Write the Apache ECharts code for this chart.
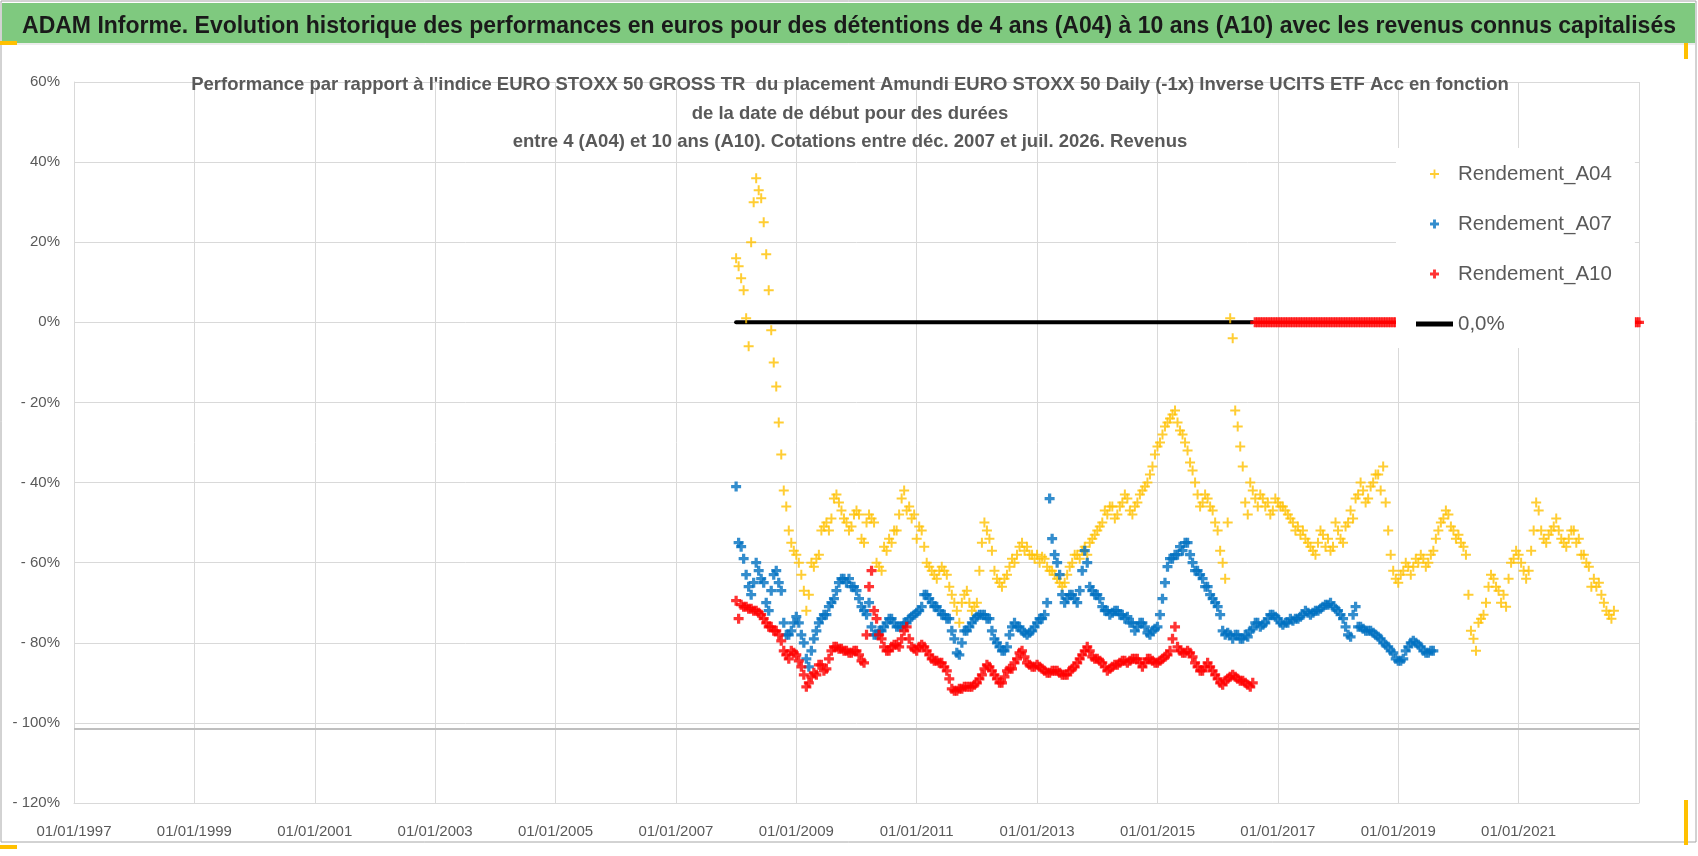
<!DOCTYPE html>
<html lang="fr">
<head>
<meta charset="UTF-8">
<title>ADAM Informe - Rendements A04 A07 A10</title>
<style>
    html, body { margin: 0; padding: 0; background: #fff; }
    #main { width: 1698px; height: 856px; }
</style>
</head>
<body>
<div id="main"></div>
<script src="https://cdn.jsdelivr.net/npm/echarts@6/dist/echarts.min.js"></script>
<script>
    // relevés toutes les demi-mois, premier point début janvier 2008 (valeurs en %)
    const firstYear = 2008
    const pointsPerYear = 24

    const rendementA04 = [
        16, 14, 11, 8, 1, -6, 20, 30, 36, 33, 31, 25, 17, 8, -2, -10, -16, -25, -33, -42, -46, -52, -55, -57,
        -58, -60, -63, -67, -72, -68, -60, -61, -59, -58, -52, -51, -50, -52, -49, -44, -43, -45, -47, -49, -50, -52, -51, -48,
        -47, -48, -54, -55, -50, -48, -49, -50, -60, -61, -62, -56, -57, -54, -55, -52, -52, -48, -44, -42, -47, -46, -49, -48,
        -54, -51, -52, -56, -60, -61, -62, -63, -64, -62, -61, -62, -63, -66, -68, -70, -72, -75, -70, -68, -67, -70, -72, -71,
        -70, -62, -55, -50, -52, -54, -57, -62, -64, -65, -66, -64, -63, -61, -59, -60, -58, -56, -55, -57, -56, -58, -58, -59,
        -58, -60, -58.5, -59, -61, -62, -62, -63, -64, -65, -66, -65, -63, -61, -60, -58, -58, -59, -57, -56, -58, -55, -54, -53,
        -52, -51, -50, -47, -48, -46, -46, -49, -48, -46, -45, -43, -44, -47, -48, -46, -45, -43, -42, -41, -40, -38, -36, -33,
        -31, -30, -28, -26, -25, -24, -23, -22, -25, -27, -28, -30, -32, -35, -37, -40, -43, -46, -45, -43, -44, -46, -47, -50,
        -52, -57, -60, -64, -50, 1, -4, -22, -26, -31, -36, -45, -48, -40, -42, -44, -46, -43, -44, -46, -45, -48, -47, -44,
        -45, -46, -46, -47, -48, -49, -50, -52, -51, -53, -52, -54, -55, -56, -57, -58, -55, -52, -53, -56, -54, -57, -56, -50,
        -52, -54, -55, -51, -50, -47, -49, -44, -43, -40, -42, -45, -44, -41, -40, -38, -38, -42, -36, -45, -52, -58, -62, -64,
        -65, -63, -62, -60, -61, -63, -61, -59, -60, -58, -59, -61, -60, -58, -57, -54, -52, -50, -49, -47, -48, -51, -52, -54,
        -53, -55, -56, -58, -68, -77, -79, -82, -75, -74, -73, -70, -66, -63, -64, -66, -67, -70, -68, -71, -64, -60, -59, -57,
        -58, -60, -62, -64, -62, -57, -52, -45, -47, -52, -54, -55, -53, -52, -51, -49, -52, -54, -55, -56, -54, -52, -52, -55,
        -54, -58, -58, -60, -61, -66, -64, -66, -65, -68, -70, -72, -73, -74, -72
    ]

    const rendementA07 = [
        -41, -55, -56, -59, -63, -66, -68, -65, -60, -62, -64, -65, -70, -72, -67, -63, -62, -65, -67, -75, -78, -78, -77, -75,
        -73.5, -75, -78, -80, -84, -86, -82, -79, -77, -75, -74, -73, -73, -71, -70, -69, -67, -65, -64, -64, -65, -64, -66, -66,
        -67, -69, -71, -72, -73, -70, -76, -78, -78, -77, -77, -76, -75, -74, -74, -75, -76, -76, -76, -75, -75, -74, -73.5, -73,
        -72.5, -72, -71, -68, -68, -69, -70, -71, -71, -72, -73, -73, -74, -74, -77, -79, -82.5, -83, -80, -77, -77, -76, -75, -74,
        -73.5, -73, -73, -73, -74, -74, -77, -79, -80, -81, -82, -82, -81, -78, -76, -75, -76, -76, -77, -77.5, -78, -77.5, -77, -76,
        -75, -74, -74, -73, -70, -44, -54, -58, -60, -63, -68, -70, -69, -68, -68, -69, -70, -67, -62, -57, -60, -66, -67, -68,
        -68, -69, -71, -72, -72, -73, -72.5, -72, -72, -73, -73, -74, -73.5, -75, -75, -77, -76, -75, -75, -76, -77.5, -78, -77, -76.5,
        -76, -73, -69, -65, -61, -59, -59, -58, -58, -56, -57, -55, -55, -58, -60, -62, -62, -63, -64, -66, -66, -68, -69, -70,
        -71, -73, -77, -78, -77.5, -78, -79, -78, -78, -79, -79, -78, -78.5, -77, -76.5, -75, -75, -76, -75.5, -75, -74, -73, -73, -73.5,
        -74, -75, -75.5, -75, -75, -74, -74.5, -74, -74, -73.5, -73, -72, -72.5, -73, -72.5, -72, -72, -71.5, -71, -70.5, -70.5, -70, -71, -71.5,
        -72, -73, -74, -76, -78, -78.5, -73, -71, -76, -76, -76.5, -77, -77, -77, -77.5, -78, -78.5, -79, -80, -80.5, -81, -82, -82.5, -84,
        -84.5, -84.5, -84, -82, -81, -80, -79.5, -80, -80.5, -81, -82, -82.5, -82.5, -82, -82
    ]

    const rendementA10 = [
        -69.5, -74, -70.5, -71, -71, -71.5, -71.5, -72, -72, -72.5, -73, -74, -75, -76, -76, -77, -77, -78, -79.5, -82, -83, -84, -82, -82.5,
        -83, -84.5, -86, -88, -91, -90, -88.5, -87.5, -88, -85.5, -85.5, -87, -86.5, -84, -82, -81, -81, -81.5, -81.5, -82, -82, -82.5, -82.5, -82,
        -82, -83, -84.5, -85, -78, -66, -62, -72, -74, -78, -79, -81, -82, -82, -81, -80.5, -80.5, -81, -79, -77, -76, -79, -81, -81.5,
        -82, -81, -80.5, -81, -82, -83, -84, -84.5, -84.5, -85, -85, -86, -87, -89, -91.5, -92, -92, -91.5, -91.5, -91, -91, -91, -91, -90.5,
        -90, -89, -88, -86.5, -85.5, -86, -87, -88, -89, -90, -90, -88.5, -87, -86.5, -86.5, -85, -84, -82.5, -82, -83.5, -85, -85.5, -86, -86,
        -85.5, -86, -86.5, -87, -87.5, -87.5, -87, -87, -87, -87.5, -88, -88, -88, -87, -86.5, -86, -85, -84, -83, -82, -81, -82, -83.5, -84,
        -84, -84.5, -85, -86, -87, -86.5, -86, -85.5, -85.5, -85, -84.5, -84.5, -85, -84.5, -84, -84, -84, -85, -86, -85, -84, -84, -84.5, -85,
        -85, -84.5, -84, -83.5, -83, -82, -79, -76, -81, -82, -82.5, -82.5, -82, -82.5, -83.5, -85, -86, -87, -87, -86, -85, -86, -87, -88,
        -89, -90, -90.5, -89.5, -89, -88.5, -88, -88.5, -89, -89.5, -89.5, -90, -90.5, -91, -90,
        // cellules vides après juillet 2016, tracées à 0
        0, 0, 0, 0, 0, 0, 0, 0, 0,
        0, 0, 0, 0, 0, 0, 0, 0, 0, 0, 0, 0, 0, 0, 0, 0, 0, 0, 0, 0, 0, 0, 0, 0,
        0, 0, 0, 0, 0, 0, 0, 0, 0, 0, 0, 0, 0, 0, 0, 0, 0, 0, 0, 0, 0, 0, 0, 0,
        0, 0, 0, 0, 0, 0, 0, 0, 0, 0, 0, 0, 0, 0, 0, 0, 0, 0, 0, 0, 0, 0, 0, 0,
        0, 0, 0, 0, 0, 0, 0, 0, 0, 0, 0, 0, 0, 0, 0, 0, 0, 0, 0, 0, 0, 0, 0, 0,
        0, 0, 0, 0, 0, 0, 0, 0, 0, 0, 0, 0, 0, 0, 0, 0, 0, 0, 0, 0, 0, 0, 0, 0,
        0, 0, 0, 0, 0, 0, 0, 0, 0, 0, 0, 0, 0, 0, 0, 0, 0, 0, 0, 0, 0, 0, 0, 0,
        0
    ]

    const ligneZeroAnnees = [2008, 2016.58]
    const ligneZeroValeurs = [0, 0]
    const ligneAxe = -101.5

    const seriesNames = ['Rendement_A04', 'Rendement_A07', 'Rendement_A10', '0,0%']
    const couleurs = ['#FFC000', '#0070C0', '#FF0000', '#000000']

    const FONT = "'Liberation Sans', Arial, sans-serif"
    const GRIS = '#595959'

    const croixFine = 'path://M3.2,0H4.8V3.2H8V4.8H4.8V8H3.2V4.8H0V3.2H3.2Z'
    const croixGrasse = 'path://M2.7,0H5.3V2.7H8V5.3H5.3V8H2.7V5.3H0V2.7H2.7Z'

    function toPoints(values) {
        return values.map((v, i) => [firstYear + i / pointsPerYear, v])
    }

    function pctLabel(v) {
        if (v < 0) return '- ' + (-v) + '%'
        return v + '%'
    }

    function scatter(idx, values, symbol) {
        return {
            name: seriesNames[idx],
            type: 'scatter',
            data: toPoints(values),
            symbol: symbol,
            symbolSize: 10,
            itemStyle: {color: couleurs[idx]},
            z: 3 + idx
        }
    }

    let chart = echarts.init(document.getElementById('main'))
    let option = {
        backgroundColor: '#fff',
        animation: false,
        title: [
            {
                text: 'ADAM Informe. Evolution historique des performances en euros pour des détentions de 4 ans (A04) à 10 ans (A10) avec les revenus connus capitalisés',
                left: 'center',
                top: 10,
                textStyle: {fontFamily: FONT, fontWeight: 'bold', fontSize: 23, color: '#1a1a1a'}
            },
            {
                text: "Performance par rapport à l'indice EURO STOXX 50 GROSS TR  du placement Amundi EURO STOXX 50 Daily (-1x) Inverse UCITS ETF Acc en fonction\nde la date de début pour des durées\nentre 4 (A04) et 10 ans (A10). Cotations entre déc. 2007 et juil. 2026. Revenus",
                left: 845,
                top: 66,
                textAlign: 'center',
                textStyle: {fontFamily: FONT, fontWeight: 'bold', fontSize: 18.5, lineHeight: 28.5, color: GRIS}
            }
        ],
        graphic: [
            {type: 'rect', z: -10, shape: {x: 1, y: 1, width: 1695, height: 841}, style: {fill: '#fff', stroke: '#A6A6A6', lineWidth: 1}},
            {type: 'rect', z: -9, shape: {x: 2, y: 3, width: 1693, height: 40}, style: {fill: '#7FC97F'}},
            {type: 'line', z: -9, shape: {x1: 2, y1: 44, x2: 1695, y2: 44}, style: {stroke: '#D9D9D9', lineWidth: 1}},
            {type: 'rect', shape: {x: 0, y: 41, width: 17, height: 4}, style: {fill: '#FFC000'}},
            {type: 'rect', shape: {x: 1684, y: 43, width: 4, height: 16}, style: {fill: '#FFC000'}},
            {type: 'rect', shape: {x: 0, y: 845, width: 17, height: 4}, style: {fill: '#FFC000'}},
            {type: 'rect', shape: {x: 1684, y: 800, width: 4, height: 45}, style: {fill: '#FFC000'}}
        ],
        grid: {left: 74, right: 59, top: 82, bottom: 53},
        legend: {
            orient: 'vertical',
            left: 1396,
            top: 148,
            padding: [13, 23, 11, 20],
            backgroundColor: '#fff',
            itemWidth: 37,
            itemHeight: 9,
            itemGap: 24,
            z: 20,
            textStyle: {fontFamily: FONT, fontSize: 20.5, lineHeight: 26, color: GRIS},
            data: [
                seriesNames[0],
                seriesNames[1],
                seriesNames[2],
                {name: seriesNames[3], icon: 'path://M0,0H36V5H0Z'}
            ]
        },
        xAxis: {
            type: 'value',
            min: 1997,
            max: 2023,
            interval: 2,
            axisLine: {onZero: false, lineStyle: {color: '#D9D9D9'}},
            axisTick: {show: false},
            splitLine: {lineStyle: {color: '#D9D9D9'}},
            axisLabel: {
                showMaxLabel: false,
                margin: 21,
                fontFamily: FONT,
                fontSize: 15,
                color: GRIS,
                formatter: v => '01/01/' + v
            }
        },
        yAxis: {
            type: 'value',
            min: -120,
            max: 60,
            interval: 20,
            axisLine: {show: true, onZero: false, lineStyle: {color: '#D9D9D9'}},
            axisTick: {show: false},
            splitLine: {lineStyle: {color: '#D9D9D9'}},
            axisLabel: {margin: 14, fontFamily: FONT, fontSize: 15, color: GRIS, formatter: pctLabel}
        },
        series: [
            scatter(0, rendementA04, croixFine),
            scatter(1, rendementA07, croixGrasse),
            scatter(2, rendementA10, croixGrasse),
            {
                name: seriesNames[3],
                type: 'line',
                symbol: 'none',
                data: ligneZeroAnnees.map((a, i) => [a, ligneZeroValeurs[i]]),
                lineStyle: {color: couleurs[3], width: 4, cap: 'round'},
                itemStyle: {color: couleurs[3]},
                z: 2,
                markLine: {
                    silent: true,
                    symbol: 'none',
                    label: {show: false},
                    lineStyle: {color: '#BFBFBF', width: 2, type: 'solid'},
                    data: [{yAxis: ligneAxe}]
                }
            }
        ]
    }
    chart.setOption(option)
</script>
</body>
</html>
